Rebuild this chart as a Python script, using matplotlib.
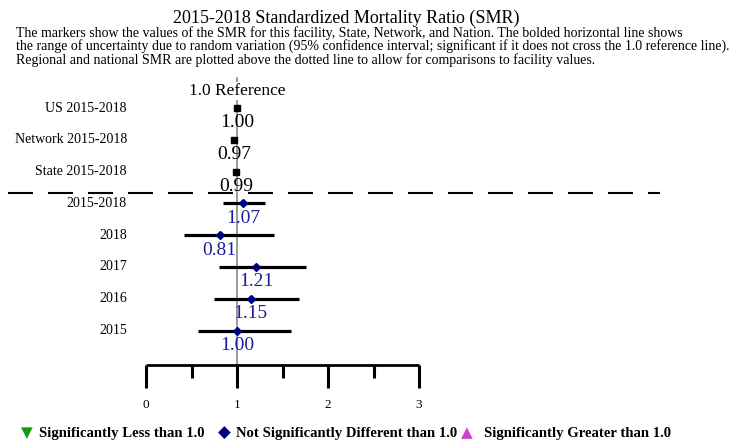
import matplotlib
matplotlib.use("Agg")
import matplotlib.pyplot as plt

plt.rcParams['font.family'] = ['Liberation Serif', 'DejaVu Serif']

# ---- data ----
row_labels = ['US 2015-2018', 'Network 2015-2018', 'State 2015-2018',
              '2015-2018', '2018', '2017', '2016', '2015']
smr = [1.00, 0.97, 0.99, 1.07, 0.81, 1.21, 1.15, 1.00]
ci_lower = [None, None, None, 0.85, 0.42, 0.80, 0.75, 0.57]
ci_upper = [None, None, None, 1.31, 1.41, 1.76, 1.68, 1.59]
is_facility = [False, False, False, True, True, True, True, True]
x_ticks = [0, 1, 2, 3]
x_minor = [0.5, 1.5, 2.5]
reference_value = 1.0

title = "2015-2018 Standardized Mortality Ratio (SMR)"
subtitle_lines = [
    "The markers show the values of the SMR for this facility, State, Network, and Nation. The bolded horizontal line shows",
    "the range of uncertainty due to random variation (95% confidence interval; significant if it does not cross the 1.0 reference line).",
    "Regional and national SMR are plotted above the dotted line to allow for comparisons to facility values.",
]
legend_labels = ['Significantly Less than 1.0', 'Not Significantly Different than 1.0',
                 'Significantly Greater than 1.0']

W, H = 737, 441
fig = plt.figure(figsize=(W / 100, H / 100), dpi=100)
ax = fig.add_axes([0, 0, 1, 1])
ax.set_axis_off()

x0_px, unit_px = 146, 91.0
y0_px, row_px = 108, 31.8
ax.set_xlim(-x0_px / unit_px, (W - x0_px) / unit_px)
ax.set_ylim((H - y0_px) / row_px, -y0_px / row_px)

navy = '#000080'
label_blue = '#1c1c9c'

axis_y = 8.08
# reference line
ax.plot([reference_value, reference_value], [-0.95, axis_y], color='#808080', lw=1.1, zorder=1)
ax.text(reference_value, -0.53, '1.0 Reference', ha='center', va='center', fontsize=12.5,
        bbox=dict(facecolor='white', edgecolor='none', pad=0.5), zorder=3)

# dashed separator
ax.plot([-1.52, 5.65], [2.66, 2.66], color='black', lw=1.5, dashes=(12, 7.2), zorder=2)

for i, (lab, v, lo, hi, fac) in enumerate(zip(row_labels, smr, ci_lower, ci_upper, is_facility)):
    ax.text(-0.21, i, lab, ha='right', va='center', fontsize=10)
    if fac:
        ax.plot([lo, hi], [i, i], color='black', lw=2.3, solid_capstyle='butt', zorder=2)
        ax.plot([v], [i], marker='D', color=navy, ms=4.5, zorder=4)
        ax.text(v, i + 0.47, f'{v:.2f}', ha='center', va='center', fontsize=14, color=label_blue, zorder=5)
    else:
        ax.plot([v], [i], marker='s', color='black', ms=5, zorder=4)
        ax.text(v, i + 0.47, f'{v:.2f}', ha='center', va='center', fontsize=14, color='black', zorder=5)

# custom x axis
ax.plot([x_ticks[0], x_ticks[-1]], [axis_y, axis_y], color='black', lw=2, solid_capstyle='butt')
for t in x_ticks:
    ax.plot([t, t], [axis_y, 8.8], color='black', lw=2.2, solid_capstyle='butt')
    ax.text(t, 9.34, str(t), ha='center', va='center', fontsize=9.5)
for t in x_minor:
    ax.plot([t, t], [axis_y, 8.5], color='black', lw=2.2, solid_capstyle='butt')

# titles
fig.text(346 / W, 1 - 18 / H, title, ha='center', va='center', fontsize=13)
for k, line in enumerate(subtitle_lines):
    fig.text(16 / W, 1 - (33 + 13.5 * k) / H, line, ha='left', va='center', fontsize=10.0)

# legend
leg_y = 1 - 433 / H
fig.text(27 / W, leg_y, '\u25BC', color='#119911', ha='center', va='center', fontsize=11,
         family=['DejaVu Sans'])
fig.text(39 / W, leg_y, legend_labels[0], ha='left', va='center', fontsize=10.6, fontweight='bold')
fig.text(224 / W, leg_y, '\u25C6', color=navy, ha='center', va='center', fontsize=12,
         family=['DejaVu Sans'])
fig.text(236 / W, leg_y, legend_labels[1], ha='left', va='center', fontsize=10.6, fontweight='bold')
fig.text(467 / W, leg_y, '\u25B2', color='#cc44cc', ha='center', va='center', fontsize=11,
         family=['DejaVu Sans'])
fig.text(484 / W, leg_y, legend_labels[2], ha='left', va='center', fontsize=10.6, fontweight='bold')

fig.savefig('out.png', dpi=100)
